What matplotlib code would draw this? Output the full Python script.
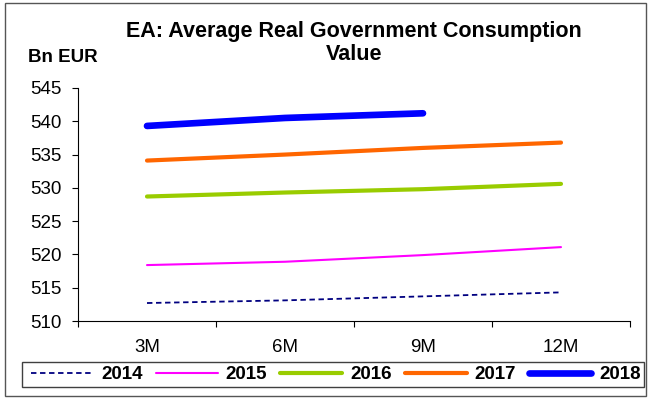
import matplotlib
matplotlib.use("Agg")
import matplotlib.pyplot as plt
from matplotlib.patches import Rectangle
from matplotlib.ticker import FixedLocator, NullFormatter, FixedFormatter

plt.rcParams['font.family'] = ['Liberation Sans', 'DejaVu Sans']

categories = ["3M", "6M", "9M", "12M"]
s2014 = [512.7, 513.1, 513.7, 514.3]
s2015 = [518.4, 518.9, 519.9, 521.1]
s2016 = [528.7, 529.3, 529.8, 530.6]
s2017 = [534.1, 535.0, 536.0, 536.8]
s2018 = [539.3, 540.5, 541.2]
yticks = [510, 515, 520, 525, 530, 535, 540, 545]

W, H = 649, 399
fig = plt.figure(figsize=(W/100, H/100), dpi=100)
ax = fig.add_axes([78/W, 1-321/H, (630-78)/W, (321-88)/H])

x = list(range(len(categories)))
ax.plot(x, s2014, color='#000080', lw=1.3, ls=(0, (3, 2)), label='2014')
ax.plot(x, s2015, color='#FF00FF', lw=1.5, label='2015', solid_capstyle='round')
ax.plot(x, s2016, color='#99CC00', lw=3.0, label='2016', solid_capstyle='round')
ax.plot(x, s2017, color='#FF6600', lw=3.0, label='2017', solid_capstyle='round')
ax.plot(x[:len(s2018)], s2018, color='#0000FF', lw=4.8, label='2018', solid_capstyle='round')

ax.set_xlim(-0.5, len(categories) - 0.5)
ax.set_ylim(510, 545)
ax.set_yticks(yticks)
ax.set_yticklabels([str(v) for v in yticks])
ax.xaxis.set_major_locator(FixedLocator([i - 0.5 for i in range(len(categories) + 1)]))
ax.xaxis.set_major_formatter(NullFormatter())
ax.xaxis.set_minor_locator(FixedLocator(x))
ax.xaxis.set_minor_formatter(FixedFormatter(categories))
ax.tick_params(axis='x', which='major', direction='out', length=4, width=0.8)
ax.tick_params(axis='x', which='minor', length=0, pad=13, labelsize=13.5)
ax.tick_params(axis='y', direction='out', length=4, width=0.8, labelsize=13.5, pad=8)
for s in ['top', 'right']:
    ax.spines[s].set_visible(False)
for s in ['left', 'bottom']:
    ax.spines[s].set_linewidth(0.8)

fig.text(354/W, 1-32/H, "EA: Average Real Government Consumption",
         ha='center', va='center', fontsize=15.5, fontweight='bold')
fig.text(354/W, 1-55/H, "Value",
         ha='center', va='center', fontsize=15.5, fontweight='bold')
fig.text(28/W, 1-58/H, "Bn EUR", ha='left', va='center', fontsize=13.5, fontweight='bold')

leg = fig.legend(loc='center', bbox_to_anchor=(336/W, 1-374.5/H), ncol=5,
                 prop={'weight': 'bold', 'size': 13.5}, frameon=False,
                 handlelength=3.3, columnspacing=0.7, handletextpad=0.43,
                 borderpad=0.0, borderaxespad=0.0)

fig.patches.append(Rectangle((22/W, 1-387/H), (644-22)/W, 25/H, transform=fig.transFigure,
                             fill=False, edgecolor='#404040', lw=1.0))
fig.patches.append(Rectangle((5/W, 1-396/H), (646-5)/W, (396-3)/H, transform=fig.transFigure,
                             fill=False, edgecolor='#555555', lw=1.0))

fig.savefig("out.png", dpi=100)
